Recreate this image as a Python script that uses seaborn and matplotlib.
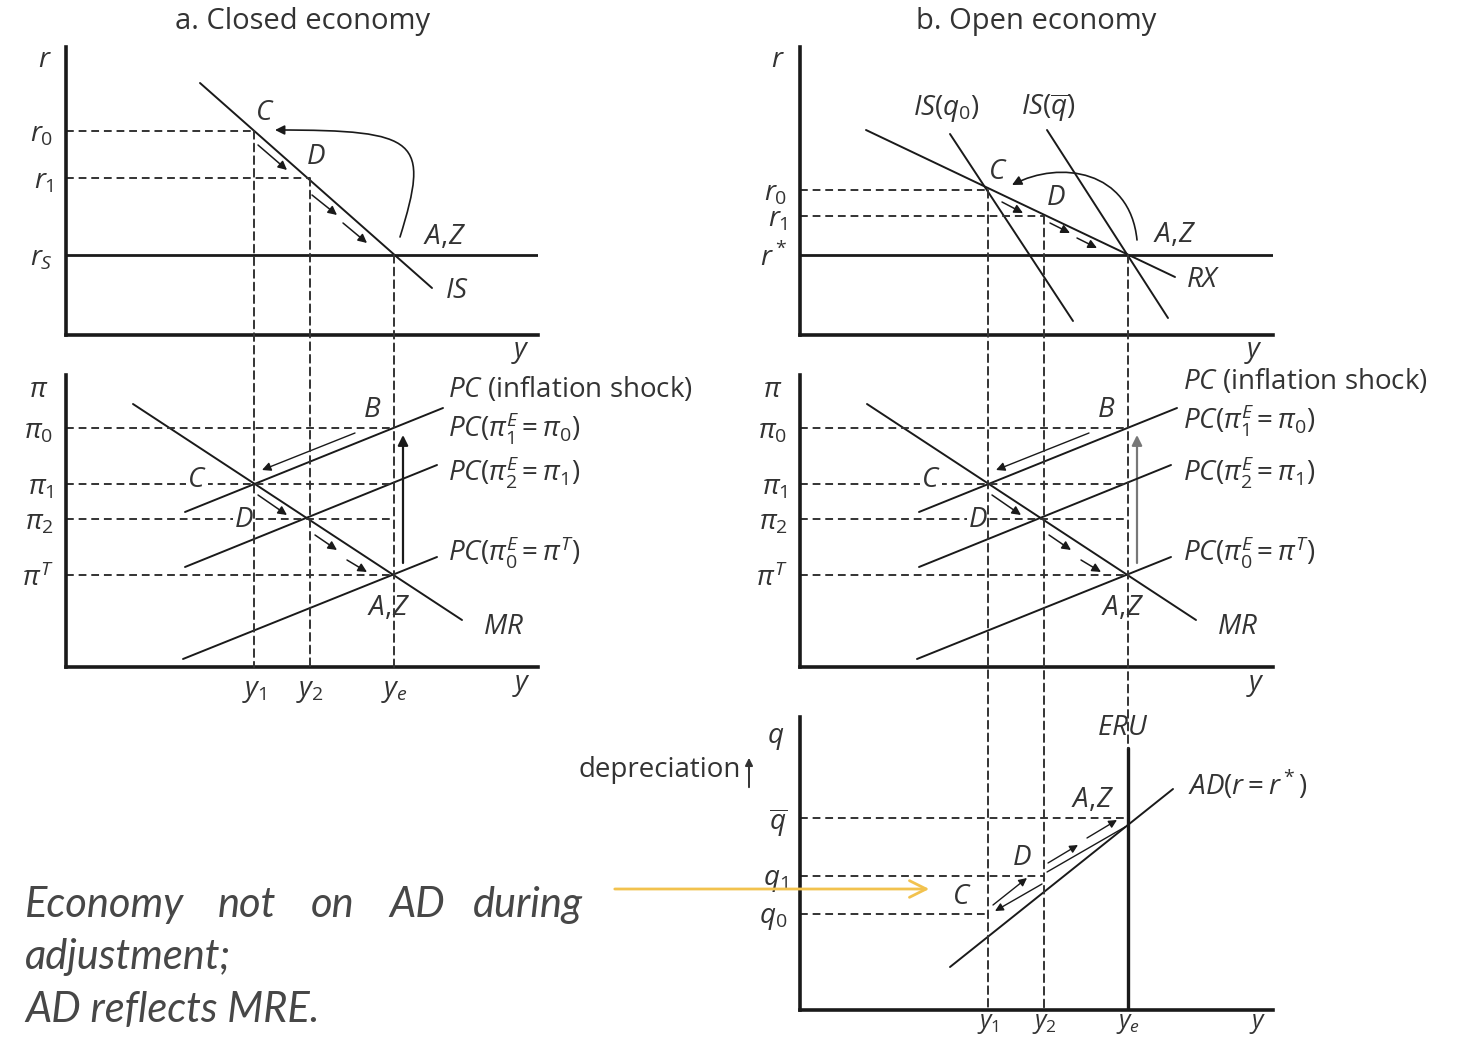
import numpy as np
import matplotlib
matplotlib.use("Agg")
import matplotlib.pyplot as plt
import seaborn as sns
from matplotlib.patches import ConnectionPatch, FancyArrowPatch
from matplotlib.path import Path

# ---- data (diagram units: pixels measured from each panel's origin) ----
Y_LEVELS = [188, 244, 328]                      # y1, y2, ye
Y_LABELS = [r"$y_1$", r"$y_2$", r"$y_e$"]

R_CLOSED = [204, 157, 80]                       # r0, r1, rS
R_CLOSED_LABELS = [r"$r_0$", r"$r_1$", r"$r_S$"]
IS_X, IS_R = [134, 366], [252, 47]

R_OPEN = [145, 119, 80]                         # r0, r1, r*
R_OPEN_LABELS = [r"$r_0$", r"$r_1$", r"$r^*$"]
RX_X, RX_R = [66, 375], [205, 58]
ISQ0_X, ISQ0_R = [150, 273], [201, 14]
ISQB_X, ISQB_R = [247, 368], [205, 17]

PI_LEVELS = [239, 183, 148, 92]                 # pi0, pi1, pi2, piT
PI_LABELS = [r"$\pi_0$", r"$\pi_1$", r"$\pi_2$", r"$\pi^T$"]
MR_X, MR_PI = [67, 396], [263, 47]
PC_SHOCK_X, PC_SHOCK_PI = [119, 377], [155, 259]
PC_MID_X, PC_MID_PI = [119, 371], [100, 202]
PC_TGT_X, PC_TGT_PI = [117, 371], [8, 110]

Q_LEVELS = [192, 134, 96]                       # qbar, q1, q0
Q_LABELS = [r"$\overline{q}$", r"$q_1$", r"$q_0$"]
AD_X, AD_Q = [150, 373], [43, 221]
ERU_TOP = 262

# small arrows (start, end)
ARR_CLOSED_TOP = [((192, 190), (221, 165)), ((246, 140), (271, 120)), ((277, 112), (301, 92))]
ARR_OPEN_TOP = [((202, 133), (223, 122)), ((250, 112), (270, 102)), ((277, 97), (297, 87))]
ARR_PI_MR = [((192, 172), (221, 152)), ((249, 132), (271, 117)), ((281, 107), (301, 95))]
ARR_PI_BC = ((289, 234), (196, 197))
ARR_PI_UP = ((337, 104), (337, 232))
ARR_Q = [((193, 105), (227, 132)), ((242, 126), (195, 99)),
         ((248, 147), (278, 165)), ((287, 172), (317, 190))]
Q_PLAIN = ((247, 138), (325, 183))
CURVE_CLOSED = [(334, 98), (364, 195), (354, 205), (209, 205)]
CURVE_OPEN = [(337, 95), (330, 165), (260, 175), (212, 150)]

W, H = 1475, 1041
INK = "#1a1a1a"
TXT = "#333333"
DASH = (0, (4, 2.5))
FS = 20

sns.set_theme(style="white")
plt.rcParams["font.family"] = ["Open Sans", "DejaVu Sans"]
plt.rcParams["mathtext.fontset"] = "custom"
plt.rcParams["mathtext.it"] = "Open Sans:italic"
plt.rcParams["mathtext.rm"] = "Open Sans"
plt.rcParams["mathtext.sf"] = "Open Sans"

fig = plt.figure(figsize=(W / 100, H / 100), dpi=100)
fig.patch.set_facecolor("white")


def panel(l, t, r, b):
    ax = fig.add_axes([l / W, 1 - b / H, (r - l) / W, (b - t) / H])
    ax.set_xlim(0, r - l)
    ax.set_ylim(0, b - t)
    sns.despine(ax=ax)
    for s in ["left", "bottom"]:
        ax.spines[s].set_linewidth(2.6)
        ax.spines[s].set_color(INK)
    ax.set_facecolor("none")
    ax.set_xticks([])
    ax.set_yticks([])
    ax.tick_params(length=0, labelsize=FS, colors=TXT)
    return ax


def line(ax, xs, ys, lw=1.4, **kw):
    sns.lineplot(x=xs, y=ys, ax=ax, color=kw.pop("color", INK), lw=lw,
                 estimator=None, sort=False, legend=False, **kw)


def dash(ax, xs, ys):
    ax.plot(xs, ys, color=TXT, lw=1.4, linestyle=DASH, clip_on=False)


def arrow(ax, a, b, color=INK, lw=1.1, ms=13):
    ax.add_patch(FancyArrowPatch(a, b, arrowstyle="-|>", mutation_scale=ms,
                                 lw=lw, color=color, shrinkA=0, shrinkB=0,
                                 clip_on=False))


def curve(ax, pts):
    p = Path(pts, [Path.MOVETO, Path.CURVE4, Path.CURVE4, Path.CURVE4])
    ax.add_patch(FancyArrowPatch(path=p, arrowstyle="-|>", mutation_scale=14,
                                 lw=1.2, color=INK, clip_on=False))


def lab(ax, x, y, s, ha="center", size=FS, **kw):
    ax.text(x, y, s, ha=ha, va="center", fontsize=size, color=TXT,
            clip_on=False, **kw)


def vlink(axA, yA, axB, yB, x):
    con = ConnectionPatch(xyA=(x, yA), coordsA="data", axesA=axA,
                          xyB=(x, yB), coordsB="data", axesB=axB,
                          color=TXT, lw=1.4, linestyle=DASH)
    fig.add_artist(con)


def yticks(ax, vals, labels):
    ax.set_yticks(vals, labels)
    ax.tick_params(axis="y", pad=9)


# ---------- a. closed economy ----------
ax_cr = panel(66, 47, 538, 335)
ax_cp = panel(66, 375, 538, 667)

line(ax_cr, [0, 472], [R_CLOSED[2]] * 2, lw=2.0)
line(ax_cr, IS_X, IS_R)
dash(ax_cr, [0, Y_LEVELS[0]], [R_CLOSED[0]] * 2)
dash(ax_cr, [0, Y_LEVELS[1]], [R_CLOSED[1]] * 2)
for a, b in ARR_CLOSED_TOP:
    arrow(ax_cr, a, b)
curve(ax_cr, CURVE_CLOSED)
yticks(ax_cr, R_CLOSED, R_CLOSED_LABELS)
lab(ax_cr, -21, 275, r"$r$")
lab(ax_cr, 199, 222, r"$C$")
lab(ax_cr, 250, 178, r"$D$")
lab(ax_cr, 378, 98, r"$A,\!Z$")
lab(ax_cr, 391, 44, r"$IS$")
lab(ax_cr, 454, -17, r"$y$")


def pi_panel(ax, up_color, x_lab, top_lab_y):
    line(ax, MR_X, MR_PI)
    line(ax, PC_SHOCK_X, PC_SHOCK_PI)
    line(ax, PC_MID_X, PC_MID_PI)
    line(ax, PC_TGT_X, PC_TGT_PI)
    for lvl in PI_LEVELS:
        dash(ax, [0, Y_LEVELS[2]], [lvl] * 2)
    for a, b in ARR_PI_MR:
        arrow(ax, a, b)
    arrow(ax, *ARR_PI_BC, lw=1.0)
    arrow(ax, *ARR_PI_UP, color=up_color, lw=1.6, ms=15)
    yticks(ax, PI_LEVELS, PI_LABELS)
    lab(ax, -27, 277, r"$\pi$")
    box = dict(facecolor="white", edgecolor="none", pad=0.5)
    lab(ax, 131, 187, r"$C$", bbox=box)
    lab(ax, 178, 147, r"$D$", bbox=box)
    lab(ax, 306, 257, r"$B$")
    lab(ax, 322, 59, r"$A,\!Z$")
    lab(ax, 437, 40, r"$MR$")
    lab(ax, x_lab, top_lab_y, r"$PC$ (inflation shock)", ha="left")
    lab(ax, x_lab, top_lab_y - 38, r"$PC(\pi_1^E = \pi_0)$", ha="left")
    lab(ax, x_lab, 195, r"$PC(\pi_2^E = \pi_1)$", ha="left")
    lab(ax, x_lab, 115, r"$PC(\pi_0^E = \pi^T)$", ha="left")
    lab(ax, 455, -18, r"$y$")


pi_panel(ax_cp, INK, 382, 277)
ax_cp.set_xticks(Y_LEVELS, Y_LABELS)
ax_cp.tick_params(axis="x", pad=7)

for x, r in zip(Y_LEVELS, R_CLOSED):
    vlink(ax_cr, r, ax_cp, 0, x)

# ---------- b. open economy ----------
ax_or = panel(800, 47, 1273, 335)
ax_op = panel(800, 375, 1273, 667)
ax_oq = panel(800, 717, 1273, 1010)

line(ax_or, [0, 473], [R_OPEN[2]] * 2, lw=2.0)
line(ax_or, RX_X, RX_R)
line(ax_or, ISQ0_X, ISQ0_R)
line(ax_or, ISQB_X, ISQB_R)
dash(ax_or, [0, Y_LEVELS[0]], [R_OPEN[0]] * 2)
dash(ax_or, [0, Y_LEVELS[1]], [R_OPEN[1]] * 2)
for a, b in ARR_OPEN_TOP:
    arrow(ax_or, a, b)
curve(ax_or, CURVE_OPEN)
yticks(ax_or, R_OPEN, R_OPEN_LABELS)
lab(ax_or, -22, 275, r"$r$")
lab(ax_or, 146, 227, r"$IS(q_0)$")
lab(ax_or, 248, 227, r"$IS(\overline{q})$")
lab(ax_or, 198, 163, r"$C$")
lab(ax_or, 256, 137, r"$D$")
lab(ax_or, 374, 100, r"$A,\!Z$")
lab(ax_or, 403, 55, r"$RX$")
lab(ax_or, 453, -17, r"$y$")

pi_panel(ax_op, "#777777", 383, 285)

line(ax_oq, AD_X, AD_Q)
line(ax_oq, [Y_LEVELS[2]] * 2, [0, ERU_TOP], lw=2.4)
line(ax_oq, [Q_PLAIN[0][0], Q_PLAIN[1][0]], [Q_PLAIN[0][1], Q_PLAIN[1][1]], lw=1.0)
dash(ax_oq, [0, Y_LEVELS[2]], [Q_LEVELS[0]] * 2)
dash(ax_oq, [0, Y_LEVELS[1]], [Q_LEVELS[1]] * 2)
dash(ax_oq, [0, Y_LEVELS[0]], [Q_LEVELS[2]] * 2)
for a, b in ARR_Q:
    arrow(ax_oq, a, b, lw=1.0, ms=12)
yticks(ax_oq, Q_LEVELS, Q_LABELS)
ax_oq.set_xticks(Y_LEVELS, Y_LABELS)
ax_oq.tick_params(axis="x", pad=1, labelsize=18)
lab(ax_oq, -24, 272, r"$q$")
lab(ax_oq, 323, 282, r"$ERU$")
lab(ax_oq, 388, 225, r"$AD(r = r^*)$", ha="left")
lab(ax_oq, 292, 210, r"$A,\!Z$")
lab(ax_oq, 222, 152, r"$D$")
lab(ax_oq, 162, 113, r"$C$")
lab(ax_oq, 458, -13, r"$y$", size=18)

vlink(ax_or, R_OPEN[0], ax_oq, 0, Y_LEVELS[0])
vlink(ax_or, R_OPEN[1], ax_oq, 0, Y_LEVELS[1])
vlink(ax_or, R_OPEN[2], ax_oq, ERU_TOP, Y_LEVELS[2])

# ---------- titles and notes ----------
def px(x, y):
    return x / W, 1 - y / H


fig.text(*px(303, 22), "a. Closed economy", ha="center", va="center",
         fontsize=21, color=TXT)
fig.text(*px(1036, 22), "b. Open economy", ha="center", va="center",
         fontsize=21, color=TXT)
fig.text(*px(741, 770), "depreciation", ha="right", va="center",
         fontsize=FS, color=TXT)
fig.add_artist(FancyArrowPatch(px(749, 790), px(749, 755), transform=fig.transFigure,
                               arrowstyle="-|>", mutation_scale=11, lw=1.4,
                               color=TXT))

note_font = dict(family="Lato", style="italic", fontsize=30, color="#474747",
                 va="center")
for word, x in zip(["Economy", "not", "on", "AD", "during"], [25, 218, 311, 389, 473]):
    fig.text(*px(x, 905), word, ha="left", **note_font)
fig.text(*px(25, 957), "adjustment;", ha="left", **note_font)
fig.text(*px(25, 1010), "AD reflects MRE.", ha="left", **note_font)

fig.add_artist(FancyArrowPatch(px(612, 889), px(932, 889), transform=fig.transFigure,
                               arrowstyle="->", mutation_scale=30, lw=2.0,
                               color="#F2C24E"))

fig.savefig("out.png", dpi=100, facecolor="white")
